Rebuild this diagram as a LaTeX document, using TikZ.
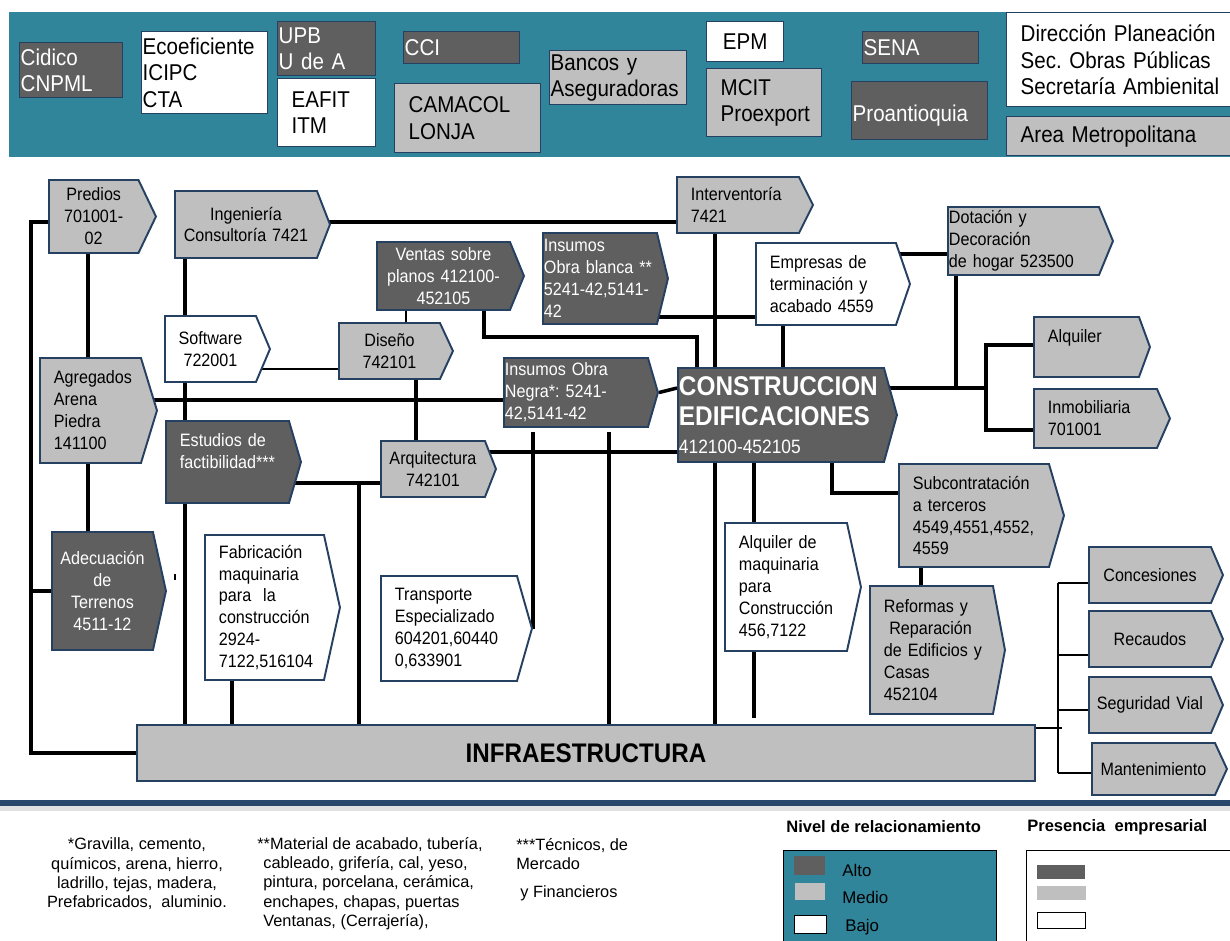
\documentclass[tikz,border=0pt]{standalone}
\usepackage{fontspec}
\setmainfont{Liberation Sans}[FakeStretch=0.9]
\newfontfamily\plainsans{Liberation Sans}
\usetikzlibrary{shapes.symbols}
\definecolor{bannerteal}{RGB}{49,133,155}
\definecolor{altogray}{RGB}{95,95,95}
\definecolor{mediogray}{RGB}{191,191,191}
\definecolor{edgeblue}{RGB}{37,64,97}
\definecolor{sepblue}{RGB}{41,72,107}
\pgfdeclarelayer{bg}
\pgfsetlayers{bg,main}
\tikzstyle{chevbase}=[shape=signal, signal to=east, draw=edgeblue, line width=1.1pt, inner ysep=0pt, inner xsep=0.02cm, font=\fontsize{10.2}{12.5}\selectfont]
\tikzstyle{alto}=[fill=altogray, text=white]
\tikzstyle{medio}=[fill=mediogray]
\tikzstyle{bajo}=[fill=white]
\tikzstyle{ctr}=[align=center]
\tikzstyle{lft}=[align=left]
\tikzstyle{ind}=[align=left, execute at begin node={\leftskip=0.26cm\relax}]
\tikzstyle{link}=[line width=2pt]
\tikzstyle{thinlink}=[line width=0.6pt]
\tikzstyle{twig}=[line width=1.6pt]
\tikzstyle{infrabox}=[rectangle, draw=edgeblue, line width=1.1pt, fill=mediogray, minimum width=898*0.02cm, minimum height=56*0.02cm, font=\fontsize{15.3}{17}\selectfont\bfseries, anchor=north west]
\tikzstyle{hdr}=[inner sep=0pt, font=\plainsans\bfseries\fontsize{9.4}{11}\selectfont]
\tikzstyle{lgtxt}=[inner sep=0pt, font=\plainsans\fontsize{9.6}{11}\selectfont]
\tikzstyle{fn}=[inner sep=0pt, font=\plainsans\fontsize{9.3}{11}\selectfont]
\tikzset{
  chev/.code n args={3}{%
    \pgfmathsetmacro\chevang{2*atan(#2/(2*#3))}%
    \tikzset{chevbase, text width={(#1-2)*0.02cm}, minimum height={#2*0.02cm}}%
    \edef\chevtmp{\noexpand\tikzset{signal pointer angle=\chevang}}\chevtmp},
  bx/.style n args={2}{rectangle, anchor=north west, draw=edgeblue, line width=0.8pt, text width={(#1-2)*0.02cm}, minimum height={#2*0.02cm}, inner xsep=0.02cm, inner ysep=0pt, align=left, font=\fontsize{13}{15}\selectfont},
  sw/.style n args={2}{rectangle, anchor=north west, inner sep=0pt, minimum width={#1*0.02cm}, minimum height={#2*0.02cm}}
}
\frenchspacing
\begin{document}
\begin{tikzpicture}[x=0.02cm, y=-0.02cm]
\useasboundingbox (0,0) rectangle (1230,940);
% banner
\fill[bannerteal] (9,12) rectangle (1236,157);
\draw (19,42) node[bx={103}{55}, alto] (cid) {Cidico\\CNPML};
\draw (141,31) node[bx={126}{82}, bajo] (eco) {Ecoeficiente\\ICIPC\\CTA};
\draw (277,21) node[bx={98}{54}, alto] (upb) {UPB\\U de A};
\draw (277,78) node[bx={98}{68}, bajo, ind] (eaf) {EAFIT\\ITM};
\draw (403,31) node[bx={116}{32}, alto] (cci) {CCI};
\draw (394,83) node[bx={146}{69}, medio, ind] (cam) {CAMACOL\\LONJA};
\draw (549,50) node[bx={137}{54}, medio] (ban) {Bancos y\\Aseguradoras};
\draw (706,21) node[bx={77}{40}, bajo, ctr] (epm) {EPM};
\draw (706,68) node[bx={115}{68}, medio, ind] (mci) {MCIT\\Proexport};
\draw (862,31) node[bx={116}{32}, alto] (sen) {SENA};
\draw (851,81) node[bx={136}{58}, alto] (pro) {~\\Proantioquia};
\draw (1006,12) node[bx={232}{94}, bajo, ind] (dir) {Dirección Planeación\\Sec. Obras Públicas\\Secretaría Ambienital};
\draw (1006,116) node[bx={232}{39}, medio, ind] (are) {Area Metropolitana};

% cadena productiva
\draw (48,216.5) node[chev={89.5}{73}{17.5}, medio, ctr, anchor=west] (pred) {Predios\\701001-\\02};
\draw (174,224.5) node[chev={142}{67}{13}, medio, ctr, anchor=west] (ing) {Ingeniería\\Consultoría 7421};
\draw (376,276) node[chev={133}{68}{14}, alto, ctr, anchor=west] (ven) {Ventas sobre\\planos 412100-\\452105};
\draw (164,349) node[chev={91}{66}{14}, bajo, ctr, anchor=west] (soft) {Software\\722001};
\draw (338,351) node[chev={101}{56}{13}, medio, ctr, anchor=west] (dis) {Diseño\\742101};
\draw (39,410.5) node[chev={101}{105}{16}, medio, ind, anchor=west] (agr) {Agregados\\Arena\\Piedra\\141100};
\draw (165,462) node[chev={123}{82}{12}, alto, ind, anchor=west] (est) {Estudios de\\factibilidad***\\~};
\draw (380,469) node[chev={104}{56}{11}, medio, ctr, anchor=west] (arq) {Arquitectura\\742101};
\draw (542,278.5) node[chev={114}{91}{11}, alto, lft, anchor=west] (blan) {Insumos\\Obra blanca **\\5241-42,5141-\\42};
\draw (676,205) node[chev={122}{56}{14}, medio, ind, anchor=west] (intv) {Interventoría\\7421};
\draw (755,284) node[chev={140}{82}{14}, bajo, ind, anchor=west] (emp) {Empresas de\\terminación y\\acabado 4559};
\draw (947,241) node[chev={151}{68}{14}, medio, lft, anchor=west] (dot) {Dotación y\\Decoración\\de hogar 523500};
\draw (1033,347) node[chev={105}{60}{11}, medio, ind, anchor=west] (alq) {Alquiler\\~};
\draw (1033,418.5) node[chev={123}{59}{13}, medio, ind, anchor=west] (inm) {Inmobiliaria\\701001};
\draw (503,392.5) node[chev={144}{69}{10}, alto, lft, anchor=west] (neg) {Insumos Obra\\Negra*: 5241-\\42,5141-42};
\draw (677,415) node[chev={206}{94}{13}, alto, lft, anchor=west, font=\fontsize{15.4}{17}\selectfont\bfseries] (cons) {CONSTRUCCION\\EDIFICACIONES\\[-1pt]{\mdseries\fontsize{11}{13}\selectfont 412100-452105}};
\draw (724,587) node[chev={122}{128}{14}, bajo, ind, anchor=west] (alqm) {Alquiler de\\maquinaria\\para\\Construcción\\456,7122};
\draw (898,515.5) node[chev={150}{103}{15}, medio, ind, anchor=west] (sub) {Subcontratación\\a terceros\\4549,4551,4552,\\4559};
\draw (869,650) node[chev={123}{128}{12}, medio, ind, anchor=west] (ref) {Reformas y\\\hspace*{0.3em}Reparación\\de Edificios y\\Casas\\452104};
\draw (1088,575) node[chev={122}{56}{12}, medio, ctr, anchor=west] (conc) {Concesiones};
\draw (1088,639) node[chev={122}{56}{12}, medio, ctr, anchor=west] (rec) {Recaudos};
\draw (1088,705) node[chev={122}{56}{12}, medio, ctr, anchor=west] (seg) {Seguridad Vial};
\draw (1091,769) node[chev={123}{52}{12}, medio, ctr, anchor=west] (mant) {Mantenimiento};
\draw (51,591) node[chev={101}{118}{13}, alto, ctr, anchor=west] (ade) {Adecuación\\de\\Terrenos\\4511-12};
\draw (204,607.5) node[chev={119}{145}{16}, bajo, ind, anchor=west] (fab) {Fabricación\\maquinaria\\para\ \ la\\construcción\\2924-\\7122,516104};
\draw (380,628.5) node[chev={136}{105}{15}, bajo, ind, anchor=west] (tra) {Transporte\\Especializado\\604201,60440\\0,633901};
\draw (136,724) node[infrabox] (infra) {INFRAESTRUCTURA};

% lanes
\coordinate (spine) at (31,222);
\coordinate (c1) at (88,0);
\coordinate (c2) at (185,0);
\coordinate (c3) at (232,0);
\coordinate (c4) at (359,0);
\coordinate (c5) at (406,0);
\coordinate (c6) at (416,0);
\coordinate (c7) at (484,0);
\coordinate (c8) at (533,0);
\coordinate (c9) at (609,0);
\coordinate (c10) at (697,0);
\coordinate (c11) at (715,0);
\coordinate (c12) at (754,0);
\coordinate (c13) at (783,0);
\coordinate (c14) at (832,0);
\coordinate (c15) at (921,0);
\coordinate (c16) at (956,0);
\coordinate (c17) at (986,0);
\coordinate (c18) at (1058,0);
\coordinate (r1) at (0,222);
\coordinate (r2) at (0,254);
\coordinate (r3) at (0,317);
\coordinate (r4) at (0,337);
\coordinate (r5) at (0,369);
\coordinate (r6) at (0,388);
\coordinate (r7) at (0,400);
\coordinate (r8) at (0,452);
\coordinate (r9) at (0,483);
\coordinate (r10) at (0,493);
\coordinate (r11) at (0,728);
\coordinate (r12) at (0,345);
\coordinate (r13) at (0,430);
\coordinate (r14) at (0,432);
\coordinate (r15) at (0,718);

\begin{pgfonlayer}{bg}
\draw[link] (pred.center |- spine) -- (spine) |- (infra.west);
\draw[link] (ade.center) -- (ade.center -| spine);
\draw[link] (pred.south -| c1) -- (ade.north -| c1);
\draw[link] (ing.south -| c2) -- (infra.north -| c2);
\draw[link] (fab.south -| c3) -- (infra.north -| c3);
\draw[link] (est.center |- r9) -- (arq.center |- r9);
\draw[link] (c4 |- r9) -- (infra.north -| c4);
\draw[thinlink] (ven.south -| c5) -- (dis.north -| c5);
\draw[thinlink] (soft.center |- r5) -- (dis.center |- r5);
\draw[link] (dis.south -| c6) -- (arq.north -| c6);
\draw[link] (ven.south -| c7) |- (c10 |- r4) -- (cons.north -| c10);
\draw[link] (agr.center |- r7) -- (neg.center |- r7);
\draw[link] (arq.center |- r8) -- (cons.center |- r8);
\draw[link] (ing.center |- r1) -- (intv.center |- r1);
\draw[link] (intv.south -| c11) -- (infra.north -| c11);
\draw[link] (blan.center |- r3) -- (emp.center |- r3);
\draw[link] (emp.south -| c13) -- (cons.north -| c13);
\draw[link] (emp.center |- r2) -- (dot.center |- r2);
\draw[link] (dot.south -| c16) -- (c16 |- r6);
\draw[link] (cons.center |- r6) -- (c17 |- r6);
\draw[link] (alq.center |- r12) -| (c17 |- r6) |- (inm.center |- r13);
\draw[link] (neg.east) -- (cons.west |- r6);
\draw[link] (tra.east) -- (tra.east |- r14);
\draw[link] (c9 |- r14) -- (infra.north -| c9);
\draw[link] (cons.south -| c12) -- (alqm.north -| c12);
\draw[link] (alqm.south -| c12) -- (c12 |- r15);
\draw[link] (cons.south -| c14) |- (sub.center |- r10);
\draw[link] (sub.south -| c15) -- (ref.north -| c15);
\draw[twig] (infra.east |- r11) -- ([xshift=0.08cm]c18 |- r11);
\draw[twig] (c18 |- 0,583) -- (c18 |- 0,773);
\foreach \n/\y in {conc/583,rec/655,seg/710,mant/773}
  \draw[twig] (c18 |- 0,\y) -- (\n.center |- 0,\y);
\draw[thinlink] (175,574) -- (175,580);
\end{pgfonlayer}

% notas y convenciones
\draw[line width=2.5pt, black!12] (0,808.5) -- (1230,808.5);
\draw[line width=3pt, sepblue] (0,803) -- (1230,803);
\draw (137,874) node[fn, align=center] (fn1) {*Gravilla, cemento,\\químicos, arena, hierro,\\ladrillo, tejas, madera,\\Prefabricados,\ \ aluminio.};
\draw (263,883.5) node[fn, align=left, anchor=west] (fn2) {\hspace*{-0.12cm}**Material de acabado, tubería,\\cableado, grifería, cal, yeso,\\pintura, porcelana, cerámica,\\enchapes, chapas, puertas\\Ventanas, (Cerrajería),};
\draw (516,869.5) node[fn, align=left, anchor=west] (fn3) {***Técnicos, de\\Mercado\\[0.16cm]\hspace*{0.08cm}y Financieros};
\draw (786,827) node[hdr, anchor=west] (lgh1) {Nivel de relacionamiento};
\draw (1027,827) node[hdr, anchor=west] (lgh2) {Presencia\ \ empresarial};
\draw (783,850) node[sw={213}{100}, draw=black, line width=0.7pt, fill=bannerteal] (lgb1) {};
\draw (1026,850) node[sw={220}{100}, draw=black, line width=0.7pt, fill=white] (lgb2) {};
\draw (794,856) node[sw={31}{19}, fill=altogray] (swa) {};
\draw (795,883) node[sw={30}{17}, fill=mediogray] (swm) {};
\draw (794,915) node[sw={32}{18}, fill=white, draw=black, line width=0.7pt] (swb) {};
\draw (842,870) node[lgtxt, anchor=west] (lta) {Alto};
\draw (842,897) node[lgtxt, anchor=west] (ltm) {Medio};
\draw (845,927) node[lgtxt, anchor=west] (ltb) {Bajo};
\draw (1037,865) node[sw={48}{14}, fill=altogray] (spa) {};
\draw (1037,886) node[sw={49}{14}, fill=mediogray] (spm) {};
\draw (1037,912) node[sw={48}{16}, fill=white, draw=black, line width=0.7pt] (spb) {};
\end{tikzpicture}
\end{document}
